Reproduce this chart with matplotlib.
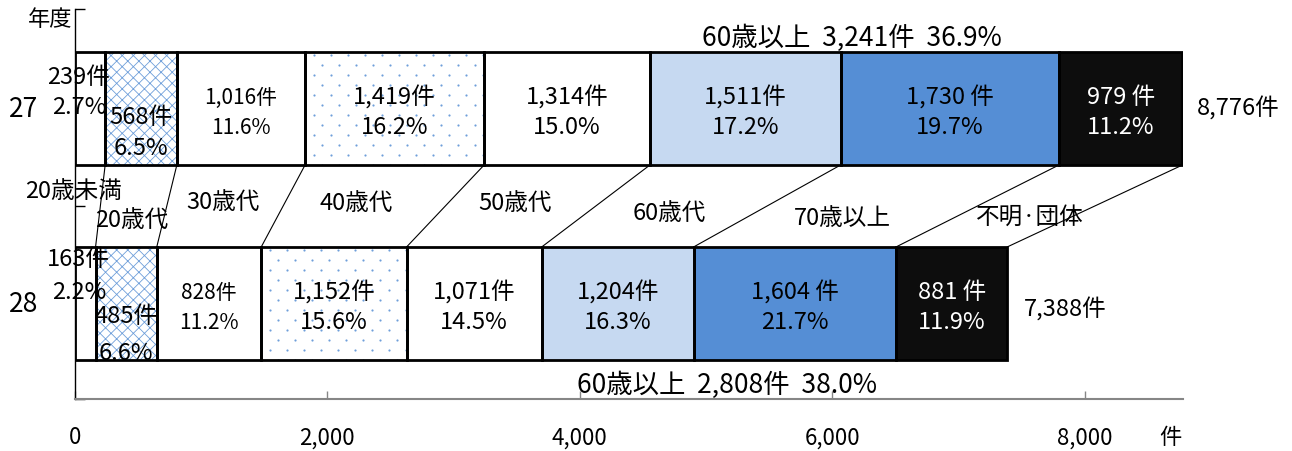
import numpy as np
import matplotlib
matplotlib.use("Agg")
import matplotlib.pyplot as plt
from matplotlib.transforms import blended_transform_factory

plt.rcParams['font.family'] = ['Noto Sans CJK JP', 'DejaVu Sans']
plt.rcParams['hatch.linewidth'] = 0.6

# data
years = ['27', '28']
groups = ['20歳未満', '20歳代', '30歳代', '40歳代', '50歳代', '60歳代', '70歳以上', '不明·団体']
counts_27 = [239, 568, 1016, 1419, 1314, 1511, 1730, 979]
counts_28 = [163, 485, 828, 1152, 1071, 1204, 1604, 881]
pct_27 = [2.7, 6.5, 11.6, 16.2, 15.0, 17.2, 19.7, 11.2]
pct_28 = [2.2, 6.6, 11.2, 15.6, 14.5, 16.3, 21.7, 11.9]
total_27 = 8776
total_28 = 7388
over60_27 = (3241, 36.9)
over60_28 = (2808, 38.0)
xticks = [0, 2000, 4000, 6000, 8000]

counts = {'27': counts_27, '28': counts_28}
pcts = {'27': pct_27, '28': pct_28}
totals = {'27': total_27, '28': total_28}

face = ['white', 'white', 'white', 'white', 'white', '#C6D9F1', '#558ED5', '#0D0D0D']
hatch = [None, 'xxx', None, 'dots', None, None, None, None]
hatch_col = '#6F9FDA'

fig = plt.figure(figsize=(12.92, 4.52), dpi=100)
ax = fig.add_axes([75 / 1292, 52 / 452, 1108 / 1292, 390 / 452])
ax.set_xlim(0, 8780)
ax.set_ylim(-0.49, 1.51)

ypos = {'27': 1, '28': 0}
h = 0.58
lefts = {}
for yr in years:
    c = np.array(counts[yr])
    left = np.concatenate([[0], np.cumsum(c)[:-1]])
    lefts[yr] = left
    y = ypos[yr]
    for i in range(len(c)):
        if hatch[i] == 'dots':
            bg = ax.barh(y, c[i], left=left[i], height=h, color='white',
                         linewidth=0, zorder=2)
            # sparse staggered dot pattern, ~17px x 10px
            gx = np.arange(left[i], left[i] + c[i] + 135, 134.7)
            gy = np.arange(y - h / 2, y + h / 2 + 0.06, 0.0513)
            px, py = [], []
            for k, yy in enumerate(gy):
                off = 67 if k % 2 else 0
                px.extend(gx + off)
                py.extend([yy] * len(gx))
            sc = ax.scatter(px, py, s=2.5, color=hatch_col, linewidths=0, zorder=2.5)
            sc.set_clip_path(bg.patches[0])
        elif hatch[i]:
            ax.barh(y, c[i], left=left[i], height=h, color='white',
                    edgecolor=hatch_col, linewidth=0, hatch=hatch[i], zorder=2)
        else:
            ax.barh(y, c[i], left=left[i], height=h, color=face[i],
                    linewidth=0, zorder=2)
        ax.barh(y, c[i], left=left[i], height=h, fill=False,
                edgecolor='black', linewidth=2, zorder=3)

# series lines between the two bars
ends27 = np.cumsum(counts_27)
ends28 = np.cumsum(counts_28)
for a, b in zip(ends27, ends28):
    ax.plot([a, b], [1 - h / 2, h / 2], color='black', lw=0.8, zorder=1)

# segment labels
special = {('27', 0): (30, 0.164, 0.01), ('28', 0): (30, 0.23, 0.06),
           ('27', 1): (None, -0.041, -0.2), ('28', 1): (None, -0.06, -0.25)}
for yr in years:
    y = ypos[yr]
    for i, (c, p) in enumerate(zip(counts[yr], pcts[yr])):
        xc = lefts[yr][i] + c / 2
        d1, d2 = 0.06, -0.095
        if (yr, i) in special:
            sx, d1, d2 = special[(yr, i)]
            if sx is not None:
                xc = sx
        sep = ' ' if i >= 6 else ''
        col = 'white' if i == 7 else 'black'
        fs = 15 if i == 2 else 17
        ax.text(xc, y + d1, f'{c:,}{sep}件', ha='center', va='center',
                fontsize=fs, color=col, zorder=4)
        ax.text(xc, y + d2, f'{p:.1f}%', ha='center', va='center',
                fontsize=fs, color=col, zorder=4)

# totals
ax.text(total_27 + 111, 1.005, f'{total_27:,}件', ha='left', va='center', fontsize=17)
ax.text(total_28 + 135, -0.026, f'{total_28:,}件', ha='left', va='center', fontsize=17)

# category names between the bars
cen27 = lefts['27'] + np.array(counts_27) / 2
cen28 = lefts['28'] + np.array(counts_28) / 2
lab_dx = [-116, -12, -15, -65, -44, -99, -240, -49]
lab_y = [0.577, 0.433, 0.525, 0.52, 0.52, 0.469, 0.443, 0.448]
for g, a, b, dx, yy in zip(groups, cen27, cen28, lab_dx, lab_y):
    ax.text((a + b) / 2 + dx, yy, g, ha='center', va='center', fontsize=17, zorder=5)

# 60+ summaries
top_c = (lefts['27'][5] + ends27[6]) / 2
bot_c = (lefts['28'][5] + ends28[6]) / 2
ax.text(top_c - 20, 1.366, f'60歳以上  {over60_27[0]:,}件  {over60_27[1]:.1f}%',
        ha='center', va='center', fontsize=19)
ax.text(bot_c + 63, -0.413, f'60歳以上  {over60_28[0]:,}件  {over60_28[1]:.1f}%',
        ha='center', va='center', fontsize=19)

# year labels
trans = blended_transform_factory(ax.transAxes, ax.transData)
for yr in years:
    ax.text(-0.046, ypos[yr], yr, transform=trans, ha='center', va='center', fontsize=19)
ax.text(-0.002, 1.46, '年度', transform=trans, ha='right', va='center', fontsize=16)

# axes styling
for s in ['top', 'right']:
    ax.spines[s].set_visible(False)
ax.spines['left'].set_color('black')
ax.spines['left'].set_linewidth(1)
ax.spines['bottom'].set_color('#868686')
ax.spines['bottom'].set_linewidth(1.5)
ax.set_xticks(xticks)
ax.set_xticklabels([f'{v:,}' for v in xticks])
ax.tick_params(axis='x', direction='in', length=6, width=1, color='#868686',
               pad=19, labelsize=16)
ax.set_yticks([-0.49, 0.5, 1.51])
ax.set_yticklabels([])
ax.tick_params(axis='y', direction='in', length=7, width=1, color='black')
ax.text(8677, -0.49 - 38 / 195, '件', ha='center', va='center', fontsize=16)

fig.savefig('out.png', dpi=100)
